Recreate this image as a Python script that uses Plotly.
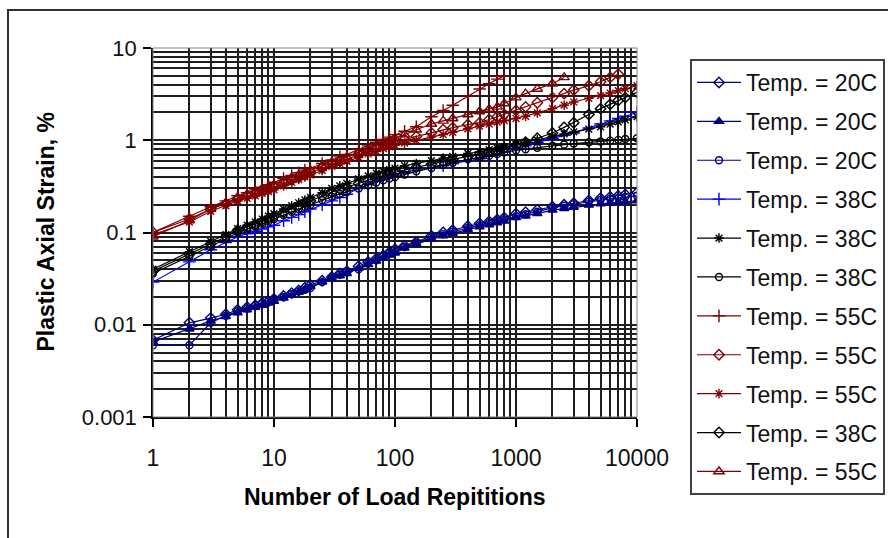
import plotly.graph_objects as go

cycles = [1, 2, 3, 4, 5, 6, 7, 8, 9, 10, 12, 14, 16, 18, 20, 25, 30, 35, 40, 50,
          60, 70, 80, 90, 100, 120, 150, 200, 250, 300, 400, 500, 600, 700, 800,
          1000, 1200, 1500, 2000, 2500, 3000, 4000, 5000, 6000, 7000, 8000, 10000]

# Plastic axial strain (%) per test
t20_a = [0.0068, 0.0105, 0.0118, 0.013, 0.0145, 0.0155, 0.0163, 0.0172, 0.018, 0.019,
         0.0205, 0.022, 0.0235, 0.0252, 0.027, 0.030, 0.033, 0.036, 0.038, 0.043,
         0.048, 0.052, 0.056, 0.061, 0.066, 0.072, 0.079, 0.092, 0.10, 0.106,
         0.117, 0.125, 0.132, 0.138, 0.145, 0.16, 0.166, 0.176, 0.19, 0.20,
         0.208, 0.222, 0.235, 0.243, 0.25, 0.258, 0.27]
t20_b = [0.0065, 0.009, 0.011, 0.0123, 0.0135, 0.0145, 0.0155, 0.0163, 0.0172, 0.018,
         0.0195, 0.021, 0.0225, 0.024, 0.026, 0.029, 0.032, 0.034, 0.036, 0.041,
         0.045, 0.049, 0.053, 0.057, 0.060, 0.068, 0.075, 0.085, 0.092, 0.098,
         0.108, 0.115, 0.121, 0.127, 0.133, 0.145, 0.151, 0.16, 0.175, 0.182,
         0.188, 0.198, 0.205, 0.209, 0.212, 0.215, 0.22]
t20_c = [0.006, 0.006, 0.0105, 0.0125, 0.014, 0.015, 0.016, 0.017, 0.018, 0.019,
         0.020, 0.0215, 0.023, 0.024, 0.025, 0.029, 0.032, 0.035, 0.037, 0.040,
         0.046, 0.050, 0.055, 0.059, 0.062, 0.070, 0.078, 0.088, 0.096, 0.102,
         0.112, 0.12, 0.127, 0.133, 0.139, 0.15, 0.158, 0.168, 0.185, 0.195,
         0.203, 0.215, 0.225, 0.232, 0.238, 0.243, 0.25]
t38_a = [0.029, 0.048, 0.065, 0.078, 0.09, 0.097, 0.103, 0.109, 0.115, 0.12,
         0.134, 0.146, 0.157, 0.168, 0.18, 0.20, 0.22, 0.24, 0.26, 0.30,
         0.33, 0.36, 0.385, 0.41, 0.43, 0.45, 0.475, 0.50, 0.53, 0.56,
         0.60, 0.63, 0.67, 0.71, 0.75, 0.82, 0.87, 0.94, 1.05, 1.13,
         1.20, 1.36, 1.50, 1.62, 1.72, 1.82, 2.0]
t38_b = [0.04, 0.062, 0.08, 0.095, 0.11, 0.12, 0.13, 0.14, 0.15, 0.16,
         0.18, 0.195, 0.21, 0.225, 0.24, 0.27, 0.30, 0.32, 0.34, 0.38,
         0.41, 0.44, 0.46, 0.48, 0.50, 0.53, 0.56, 0.60, 0.64, 0.67,
         0.72, 0.75, 0.79, 0.82, 0.85, 0.90, 0.95, 1.01, 1.10, 1.17,
         1.23, 1.32, 1.40, 1.50, 1.58, 1.66, 1.8]
t38_c = [0.036, 0.055, 0.07, 0.085, 0.10, 0.108, 0.116, 0.124, 0.132, 0.14,
         0.155, 0.168, 0.18, 0.19, 0.20, 0.225, 0.245, 0.262, 0.275, 0.30,
         0.325, 0.348, 0.368, 0.385, 0.40, 0.425, 0.46, 0.50, 0.54, 0.57,
         0.62, 0.65, 0.68, 0.71, 0.74, 0.78, 0.80, 0.83, 0.87, 0.90,
         0.92, 0.95, 0.97, 0.99, 1.01, 1.03, 1.05]
t55_a = [0.10, 0.15, 0.19, 0.22, 0.25, 0.27, 0.29, 0.31, 0.33, 0.35,
         0.385, 0.415, 0.445, 0.475, 0.50, 0.56, 0.61, 0.66, 0.70, 0.80,
         0.87, 0.95, 1.02, 1.08, 1.15, 1.25, 1.40, 1.80, 2.10, 2.40,
         3.0, 3.6, 4.1, 4.6, 5.0]
t55_b = [0.10, 0.14, 0.18, 0.205, 0.23, 0.25, 0.265, 0.28, 0.295, 0.31,
         0.34, 0.37, 0.395, 0.42, 0.45, 0.50, 0.55, 0.59, 0.62, 0.70,
         0.76, 0.82, 0.87, 0.91, 0.95, 1.02, 1.10, 1.20, 1.30, 1.37,
         1.48, 1.55, 1.68, 1.80, 1.90, 2.10, 2.30, 2.55, 2.90, 3.20,
         3.50, 3.90, 4.30, 4.80, 5.2]
t55_c = [0.095, 0.13, 0.17, 0.195, 0.22, 0.235, 0.25, 0.265, 0.278, 0.29,
         0.32, 0.35, 0.375, 0.40, 0.42, 0.47, 0.52, 0.56, 0.59, 0.65,
         0.71, 0.76, 0.81, 0.85, 0.88, 0.93, 1.00, 1.08, 1.15, 1.22,
         1.33, 1.42, 1.50, 1.57, 1.63, 1.72, 1.82, 1.98, 2.20, 2.40,
         2.60, 2.85, 3.05, 3.25, 3.45, 3.62, 3.9]
t38_d = [0.038, 0.058, 0.075, 0.09, 0.105, 0.114, 0.123, 0.132, 0.141, 0.15,
         0.166, 0.18, 0.195, 0.208, 0.22, 0.25, 0.275, 0.295, 0.31, 0.34,
         0.37, 0.395, 0.415, 0.435, 0.45, 0.48, 0.51, 0.55, 0.59, 0.62,
         0.67, 0.70, 0.74, 0.78, 0.82, 0.88, 0.95, 1.05, 1.20, 1.38,
         1.55, 1.90, 2.20, 2.45, 2.70, 2.90, 3.3]
t55_d = [0.09, 0.135, 0.18, 0.21, 0.24, 0.26, 0.28, 0.30, 0.315, 0.33,
         0.365, 0.395, 0.42, 0.445, 0.47, 0.53, 0.58, 0.62, 0.66, 0.75,
         0.81, 0.87, 0.93, 0.99, 1.05, 1.15, 1.30, 1.50, 1.62, 1.72,
         1.90, 2.05, 2.18, 2.30, 2.50, 2.90, 3.20, 3.60, 4.10, 4.8]

names = ["Temp. = 20C", "Temp. = 20C", "Temp. = 20C", "Temp. = 38C", "Temp. = 38C",
         "Temp. = 38C", "Temp. = 55C", "Temp. = 55C", "Temp. = 55C", "Temp. = 38C",
         "Temp. = 55C"]
series = [t20_a, t20_b, t20_c, t38_a, t38_b, t38_c, t55_a, t55_b, t55_c, t38_d, t55_d]
colors = ["#000080", "#000080", "#000080", "#0000FF", "#000000", "#000000",
          "#800000", "#800000", "#800000", "#000000", "#800000"]
symbols = ["diamond-open", "triangle-up", "circle-open", "cross-thin-open",
           "asterisk-open", "circle-open", "cross-thin-open", "diamond-open",
           "asterisk-open", "diamond-open", "triangle-up-open"]
sizes = [8, 8, 7, 9, 8, 7, 9, 8, 8, 8, 9]

FONT = "Liberation Sans, Arial, sans-serif"

fig = go.Figure()
for i, (nm, ys) in enumerate(zip(names, series)):
    fig.add_trace(go.Scatter(
        x=cycles[:len(ys)], y=ys, name=nm, mode="lines+markers",
        legendgroup=f"g{i}",
        line=dict(color=colors[i], width=1.2),
        marker=dict(symbol=symbols[i], size=sizes[i], color=colors[i],
                    line=dict(color=colors[i], width=1.4)),
    ))

W, H = 888, 538
L, R, T, B = 153, 251, 48, 121
pw, ph = W - L - R, H - T - B

def px_x(p):
    return (p - L) / pw

def px_y(p):
    return (H - B - p) / ph

GRID = "#1e1e1e"

fig.update_layout(
    width=W, height=H,
    margin=dict(l=L, r=R, t=T, b=B, autoexpand=False),
    paper_bgcolor="white", plot_bgcolor="white",
    font=dict(family=FONT, size=22, color="black"),
    showlegend=True,
    legend=dict(x=px_x(690), y=px_y(59), xanchor="left", yanchor="top",
                bordercolor="#404040", borderwidth=2, bgcolor="white",
                font=dict(family=FONT, size=23, color="#111111"),
                tracegroupgap=6, itemwidth=44, traceorder="grouped",
                maxheight=520),
    xaxis=dict(type="log", range=[0, 4],
               tickvals=[1, 10, 100, 1000, 10000],
               ticktext=["1", "10", "100", "1000", "10000"],
               ticks="outside", ticklen=8, tickcolor="black", tickwidth=1.5,
               showgrid=True, gridcolor=GRID, gridwidth=1.6,
               minor=dict(dtick="D1", showgrid=True, gridcolor=GRID, gridwidth=1.6, ticks=""),
               showline=True, linecolor="black", linewidth=1.5,
               tickfont=dict(family=FONT, size=23, color="#111111"),
               ticklabelstandoff=12, zeroline=False),
    yaxis=dict(type="log", range=[-3, 1],
               tickvals=[0.001, 0.01, 0.1, 1, 10],
               ticktext=["0.001", "0.01", "0.1", "1", "10"],
               ticks="outside", ticklen=8, tickcolor="black", tickwidth=1.5,
               showgrid=True, gridcolor=GRID, gridwidth=1.6,
               minor=dict(dtick="D1", showgrid=True, gridcolor=GRID, gridwidth=1.6, ticks=""),
               showline=True, linecolor="black", linewidth=1.5,
               tickfont=dict(family=FONT, size=22, color="#111111"),
               ticklabelstandoff=2, zeroline=False),
    shapes=[
        dict(type="rect", xref="paper", yref="paper", x0=0, x1=1, y0=0, y1=1,
             line=dict(color="#808080", width=1), layer="above"),
        dict(type="rect", xref="paper", yref="paper",
             x0=px_x(8), x1=px_x(905), y0=px_y(548), y1=px_y(10),
             line=dict(color="#303030", width=2), layer="below"),
    ],
    annotations=[
        dict(text="<b>Plastic Axial Strain, %</b>", xref="paper", yref="paper",
             x=px_x(45), y=0.5, textangle=-90, showarrow=False,
             font=dict(family=FONT, size=23, color="black"),
             xanchor="center", yanchor="middle"),
        dict(text="<b>Number of Load Repititions</b>", xref="paper", yref="paper",
             x=0.5, y=px_y(497), showarrow=False,
             font=dict(family=FONT, size=23, color="black"),
             xanchor="center", yanchor="middle"),
    ],
)

fig.write_html("out.html")
